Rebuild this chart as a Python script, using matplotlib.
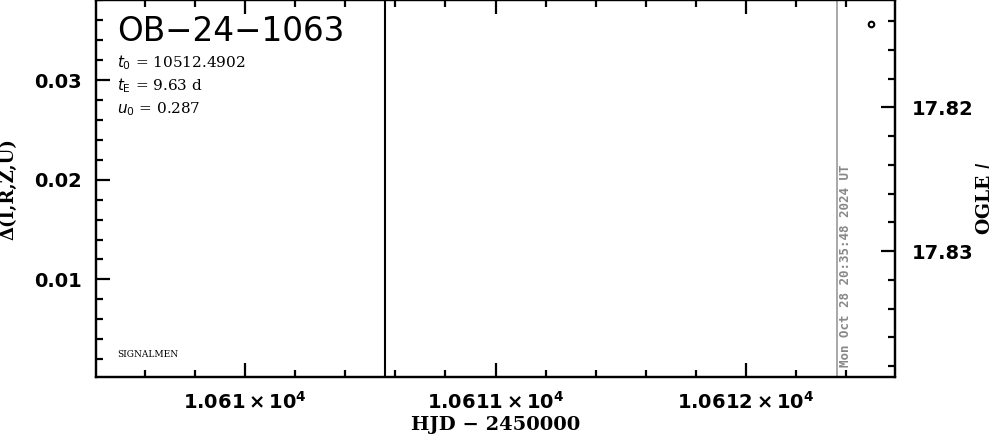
import matplotlib.pyplot as plt
from matplotlib.ticker import MultipleLocator

# OGLE I-band points (HJD - 2450000, mag)
ogle_hjd = [10612.498]
ogle_mag = [17.8142]

# vertical markers
marker_hjd = 10610.558
now_hjd = 10612.362
now_label = "Mon Oct 28 20:35:48 2024 UT"

x_ticks = [10610, 10611, 10612]
x_tick_labels = [r"$\mathbf{1.061\times10^{4}}$", r"$\mathbf{1.0611\times10^{4}}$",
                 r"$\mathbf{1.0612\times10^{4}}$"]
left_ticks = [0.01, 0.02, 0.03]
right_ticks = [17.82, 17.83]

event = "OB−24−1063"
params = [r"$t_0$ = 10512.4902", r"$t_{\rm E}$ = 9.63 d", r"$u_0$ = 0.287"]

fig = plt.figure(figsize=(9.99, 4.34), dpi=100)
ax = fig.add_axes([0.0961, 0.1313, 0.7998, 0.8677])
ax2 = ax.twinx()

ax.set_xlim(10609.405, 10612.595)
ax.set_ylim(0.0002, 0.038)
ax2.set_ylim(17.83875, 17.81257)

ax.axvline(marker_hjd, color="black", lw=1.5)
ax.axvline(now_hjd, color="#999999", lw=1.2)
ax.text(now_hjd + 0.01, 0.0012, now_label, rotation=90, color="#888888",
        family="DejaVu Sans Mono", weight="bold", fontsize=9, ha="left", va="bottom")

ax2.plot(ogle_hjd, ogle_mag, "o", mfc="white", mec="black", mew=1.5, ms=4)

for a in (ax, ax2):
    for s in a.spines.values():
        s.set_linewidth(1.6)

ax.xaxis.set_major_locator(plt.FixedLocator(x_ticks))
ax.set_xticklabels(x_tick_labels)
ax.xaxis.set_minor_locator(MultipleLocator(0.2))
ax.yaxis.set_major_locator(plt.FixedLocator(left_ticks))
ax.yaxis.set_minor_locator(MultipleLocator(0.002))
ax.set_yticklabels(["0.01", "0.02", "0.03"])
ax2.yaxis.set_major_locator(plt.FixedLocator(right_ticks))
ax2.yaxis.set_minor_locator(MultipleLocator(0.002))
ax2.set_yticklabels(["17.82", "17.83"])

ax.tick_params(axis="x", which="both", direction="in", top=True, bottom=True, width=1.6, pad=10)
ax.tick_params(axis="y", which="both", direction="in", left=True, right=False, width=1.6, pad=10)
ax2.tick_params(axis="y", which="both", direction="in", left=False, right=True, width=1.6, pad=12)
for a in (ax, ax2):
    a.tick_params(which="major", length=10, labelsize=14)
    a.tick_params(which="minor", length=5)
for lbl in ax.get_yticklabels() + ax2.get_yticklabels():
    lbl.set_fontweight("bold")

ax.set_xlabel("HJD − 2450000", family="DejaVu Serif", weight="bold", fontsize=14, labelpad=2)
ax.set_ylabel("Δ(I,R,Z,U)", family="DejaVu Serif", weight="bold", fontsize=13, labelpad=12)
ax2.set_ylabel(r"OGLE $\it{I}$", family="DejaVu Serif", weight="bold", fontsize=13.5, rotation=90)
ax2.yaxis.set_label_coords(1.101, 0.475)

ax.text(0.026, 0.962, event, transform=ax.transAxes, fontsize=23.5, va="top", ha="left")
for i, p in enumerate(params):
    ax.text(0.026, 0.835 - i * 0.062, p, transform=ax.transAxes, family="DejaVu Serif",
            fontsize=11, va="center", ha="left")
ax.text(0.026, 0.06, "SIGNALMEN", transform=ax.transAxes, family="DejaVu Serif",
        fontsize=6.5, va="center", ha="left")

fig.savefig("out.png", dpi=100)
